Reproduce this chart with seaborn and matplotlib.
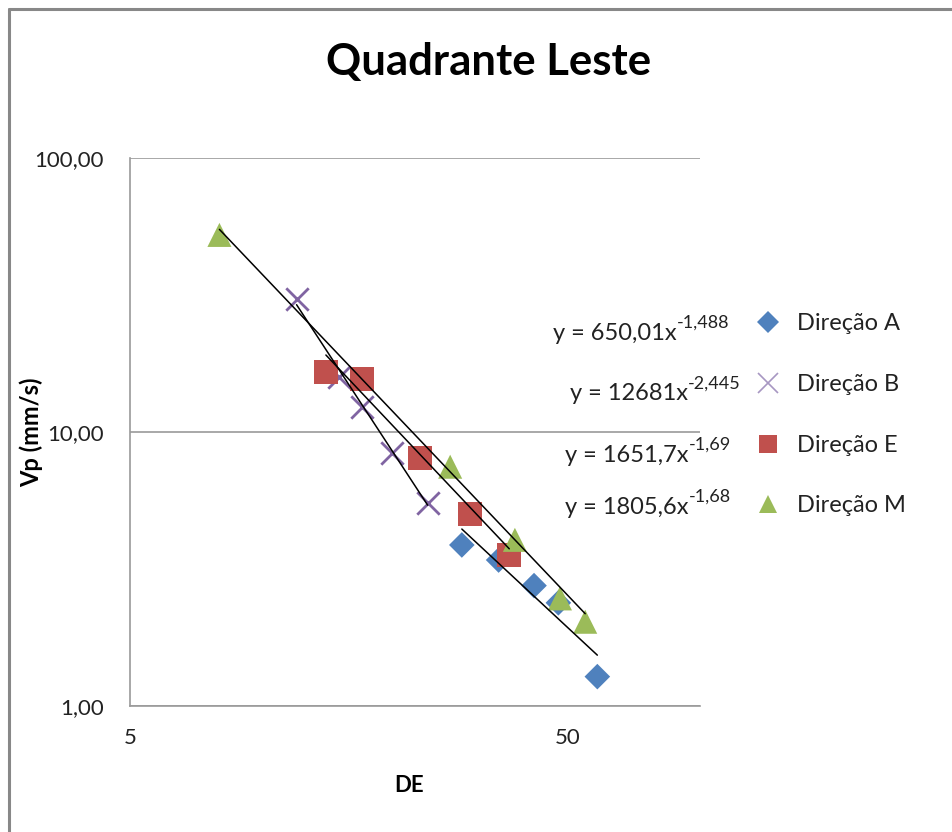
import numpy as np
import pandas as pd
import matplotlib
matplotlib.use("Agg")
import matplotlib.pyplot as plt
from matplotlib.lines import Line2D
from matplotlib.ticker import FixedLocator, FixedFormatter, NullLocator
import seaborn as sns

# ---------------- data ----------------
series_names = ["Direção A", "Direção B", "Direção E", "Direção M"]

de_A = [28.6, 34.7, 41.8, 47.5, 58.3]
vp_A = [3.87, 3.41, 2.75, 2.38, 1.28]

de_B = [12.0, 15.0, 16.9, 19.8, 23.9]
vp_B = [30.6, 15.9, 12.3, 8.36, 5.49]

de_E = [14.0, 16.9, 23.0, 29.9, 36.7]
vp_E = [16.6, 15.6, 8.02, 5.02, 3.56]

de_M = [8.0, 26.9, 37.8, 47.9, 54.7]
vp_M = [52.4, 7.47, 4.04, 2.47, 2.03]

# power-law trendline coefficients (y = a * x^b) as printed on the chart
coef_a = [650.01, 12681, 1651.7, 1805.6]
coef_b = [-1.488, -2.445, -1.69, -1.68]
eq_main = ["y = 650,01x", "y = 12681x", "y = 1651,7x", "y = 1805,6x"]
eq_exp = ["-1,488", "-2,445", "-1,69", "-1,68"]

x_ticks = [5, 50]
x_ticklabels = ["5", "50"]
y_ticks = [1, 10, 100]
y_ticklabels = ["1,00", "10,00", "100,00"]

title = "Quadrante Leste"
xlabel = "DE"
ylabel = "Vp (mm/s)"

# ---------------- table ----------------
xs = [de_A, de_B, de_E, de_M]
ys = [vp_A, vp_B, vp_E, vp_M]
df = pd.DataFrame({
    "DE": np.concatenate(xs),
    "Vp": np.concatenate(ys),
    "Série": np.repeat(series_names, [len(v) for v in xs]),
})

palette = {"Direção A": "#4F81BD", "Direção B": "#8064A2",
           "Direção E": "#C0504D", "Direção M": "#9BBB59"}
markers = {"Direção A": "D", "Direção B": "x",
           "Direção E": "s", "Direção M": "^"}
sizes = {"Direção A": 170, "Direção B": 260, "Direção E": 300, "Direção M": 300}

# ---------------- figure ----------------
sns.set_theme(style="white")
plt.rcParams["font.family"] = ["Lato", "DejaVu Sans"]

W, H = 953, 832
fig = plt.figure(figsize=(W / 100, H / 100), dpi=100)
fig.patch.set_facecolor("white")
ax = fig.add_axes([130 / W, 1 - 706 / H, 570 / W, 548 / H])

for name, x, y in zip(series_names, xs, ys):
    sub = df[df["Série"] == name]
    sns.scatterplot(data=sub, x="DE", y="Vp", marker=markers[name],
                    color=palette[name], s=sizes[name],
                    linewidth=(2.0 if markers[name] == "x" else 0),
                    edgecolor=(None if markers[name] == "x" else "none"),
                    ax=ax, zorder=3, legend=False)

# trendlines
for x, a, b in zip(xs, coef_a, coef_b):
    xx = np.geomspace(min(x), max(x), 50)
    ax.plot(xx, a * xx ** b, color="black", lw=1.1, zorder=4)

ax.set_xscale("log")
ax.set_yscale("log")
ax.set_xlim(5, 100)
ax.set_ylim(1, 100)

ax.xaxis.set_major_locator(FixedLocator(x_ticks))
ax.xaxis.set_major_formatter(FixedFormatter(x_ticklabels))
ax.xaxis.set_minor_locator(NullLocator())
ax.yaxis.set_major_locator(FixedLocator(y_ticks))
ax.yaxis.set_major_formatter(FixedFormatter(y_ticklabels))
ax.yaxis.set_minor_locator(NullLocator())

gray = "#9a9a9a"
ax.grid(axis="y", color=gray, lw=1.2)
ax.set_axisbelow(True)
for s in ["top", "right"]:
    ax.spines[s].set_visible(False)
for s in ["left", "bottom"]:
    ax.spines[s].set_color(gray)
    ax.spines[s].set_linewidth(1.2)
ax.tick_params(axis="both", which="major", direction="out", length=8,
               width=1.2, color=gray, labelsize=16, labelcolor="#222222")
ax.tick_params(axis="x", pad=8)
ax.tick_params(axis="y", pad=11)
ax.set_xlabel(xlabel, fontsize=16, fontweight="bold", color="black")
ax.set_ylabel(ylabel, fontsize=17, fontweight="bold", color="black")
ax.xaxis.set_label_coords(0.49, -0.126)
ax.yaxis.set_label_coords(-0.153, 0.50)

fig.text(489 / W, 1 - 62 / H, title, ha="center", va="center",
         fontsize=31.5, fontweight="bold", color="black")

# equation labels (main text + superscript exponent)
eq_y = [333, 394, 455, 507]
eq_x = [553, 570, 565, 565]
for main, ex, px, py in zip(eq_main, eq_exp, eq_x, eq_y):
    t = fig.text(px / W, 1 - py / H, main, ha="left", va="center",
                 fontsize=17, color="#222222")
    ax.annotate(ex, xy=(1.0, 0.62), xycoords=t, ha="left", va="bottom",
                fontsize=13, color="#222222", annotation_clip=False)

# legend
handles = [Line2D([0], [0], marker=markers[n], color=palette[n], linestyle="",
                  markersize=(11 if markers[n] == "D" else 13),
                  markeredgewidth=(1.5 if markers[n] == "x" else 0))
           for n in series_names]
handles[1].set_markersize(14)
handles[1].set_markeredgewidth(1.2)
handles[1].set_color("#A797C2")
leg = fig.legend(handles, series_names, loc="center left",
                 bbox_to_anchor=(747 / W, 1 - 415 / H), frameon=False,
                 fontsize=17, labelspacing=1.68, handletextpad=0.7,
                 handlelength=1.0, borderaxespad=0)
for t in leg.get_texts():
    t.set_color("#222222")

# outer frame (top and left edges visible)
fig.add_artist(Line2D([9 / W, 9 / W], [1 - 9 / H, 0], color="#888888", lw=2.2,
                      transform=fig.transFigure))
fig.add_artist(Line2D([9 / W, 1], [1 - 9 / H, 1 - 9 / H], color="#888888", lw=2.2,
                      transform=fig.transFigure))

fig.savefig("out.png", dpi=100, facecolor="white")
